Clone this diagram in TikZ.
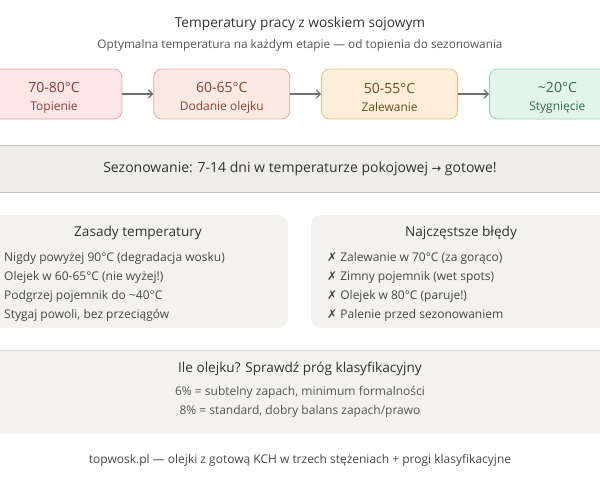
\documentclass[tikz,border=0pt]{standalone}
\usepackage{fontspec}
\setmainfont{Open Sans}
\newfontfamily\symfont{DejaVu Sans}
\usetikzlibrary{positioning,arrows.meta}

\definecolor{txtdark}{HTML}{333333}
\definecolor{txtmid}{HTML}{555555}
\definecolor{bandfill}{HTML}{EEEDE9}
\definecolor{bandline}{HTML}{C6C6C4}
\definecolor{panelfill}{HTML}{F3F2EE}
\definecolor{redfill}{HTML}{FCE6E6}
\definecolor{reddraw}{HTML}{E5A3A3}
\definecolor{redtext}{HTML}{8E3B3B}
\definecolor{salmonfill}{HTML}{FBE9E4}
\definecolor{salmondraw}{HTML}{E0AE9E}
\definecolor{salmontext}{HTML}{8C4332}
\definecolor{orangefill}{HTML}{FCEFDA}
\definecolor{orangedraw}{HTML}{E5C185}
\definecolor{orangetext}{HTML}{6E4E1E}
\definecolor{greenfill}{HTML}{E2F4EC}
\definecolor{greendraw}{HTML}{93CFB2}
\definecolor{greentext}{HTML}{2F6E52}

\begin{document}
\begin{tikzpicture}[
        x=1pt, y=-1pt,
        node distance=31pt,
        stagebox/.style={rectangle,rounded corners=8pt,draw,line width=0.8pt,
            minimum width=136pt,minimum height=50pt,align=center,inner sep=0pt},
        band/.style={rectangle,minimum width=660pt,inner sep=0pt},
        panel/.style={rectangle,rounded corners=10pt,fill=panelfill,
            minimum width=300pt,minimum height=113pt,inner sep=0pt},
        flow/.style={draw=txtmid!85,line width=1.2pt,-{Straight Barb[length=4pt,width=8pt]}},
        listtext/.style={anchor=north west,align=left,inner sep=0pt,text=txtdark!90,
            font=\fontsize{12}{19}\selectfont}
    ]
    \useasboundingbox (0,0) rectangle (600,480);

    % title
    \node (title) at (300,24) [text=txtdark,font=\fontsize{13.7}{16}\selectfont] {Temperatury pracy z woskiem sojowym};
    \node (subtitle) at (300,45) [text=txtmid,font=\fontsize{11.8}{13}\selectfont] {Optymalna temperatura na każdym etapie — od topienia do sezonowania};

    % stages
    \node (melt) at (54,94) [stagebox,fill=redfill,draw=reddraw,text=redtext]
        {{\fontsize{14}{20}\selectfont\rule{0pt}{17pt}70-80°C}\\[6pt]{\fontsize{12}{14}\selectfont Topienie}};
    \node (oil) [stagebox,fill=salmonfill,draw=salmondraw,text=salmontext,right=of melt]
        {{\fontsize{14}{20}\selectfont\rule{0pt}{17pt}60-65°C}\\[6pt]{\fontsize{12}{14}\selectfont Dodanie olejku}};
    \node (pour) [stagebox,fill=orangefill,draw=orangedraw,text=orangetext,right=of oil]
        {{\fontsize{14}{20}\selectfont\rule{0pt}{17pt}50-55°C}\\[6pt]{\fontsize{12}{14}\selectfont Zalewanie}};
    \node (cool) [stagebox,fill=greenfill,draw=greendraw,text=greentext,right=of pour]
        {{\fontsize{14}{20}\selectfont\rule{0pt}{17pt}\textasciitilde20°C}\\[6pt]{\fontsize{12}{14}\selectfont Stygnięcie}};
    \draw[flow] (melt) -- (oil);
    \draw[flow] (oil) -- (pour);
    \draw[flow] (pour) -- (cool);

    % curing band
    \node (curing) at (300,169) [band,fill=bandfill,minimum height=46pt,text=txtdark,
        font=\fontsize{14}{16}\selectfont]
        {Sezonowanie: 7-14 dni w temperaturze pokojowej {\symfont\fontsize{11.5}{13}\selectfont →} gotowe!};
    \draw[bandline,line width=1pt] (curing.north west) -- (curing.north east);
    \draw[bandline,line width=1pt] (curing.south west) -- (curing.south east);

    % panels
    \node (rules) at (138,271.5) [panel] {};
    \node (mistakes) at (461,271.5) [panel] {};
    \node (rulestitle) at (138,233) [text=txtdark,font=\fontsize{13.6}{15}\selectfont] {Zasady temperatury};
    \node (mistakestitle) at (461,233) [text=txtdark,font=\fontsize{13.6}{15}\selectfont] {Najczęstsze błędy};
    \node (ruleslist) at (4,252) [listtext]
        {Nigdy powyżej 90°C (degradacja wosku)\\
         Olejek w 60-65°C (nie wyżej!)\\
         Podgrzej pojemnik do \textasciitilde40°C\\
         Stygaj powoli, bez przeciągów};
    \node (mistakeslist) at (327,252) [listtext]
        {{\symfont ✗} Zalewanie w 70°C (za gorąco)\\
         {\symfont ✗} Zimny pojemnik (wet spots)\\
         {\symfont ✗} Olejek w 80°C (paruje!)\\
         {\symfont ✗} Palenie przed sezonowaniem};

    % oil amount band
    \node (amount) at (300,392.5) [band,fill=panelfill,minimum height=83pt] {};
    \draw[bandline!70,line width=1pt] (amount.north west) -- (amount.north east);
    \node (amounttitle) at (300,369) [text=txtdark,font=\fontsize{13.6}{15}\selectfont] {Ile olejku? Sprawdź próg klasyfikacyjny};
    \node (amountlist) at (300,402) [align=center,inner sep=0pt,text=txtmid,font=\fontsize{12}{19}\selectfont]
        {6\% = subtelny zapach, minimum formalności\\8\% = standard, dobry balans zapach/prawo};

    % footer
    \node (footer) at (300,460) [text=txtdark!90,font=\fontsize{12}{13}\selectfont]
        {topwosk.pl — olejki z gotową KCH w trzech stężeniach + progi klasyfikacyjne};
\end{tikzpicture}
\end{document}
